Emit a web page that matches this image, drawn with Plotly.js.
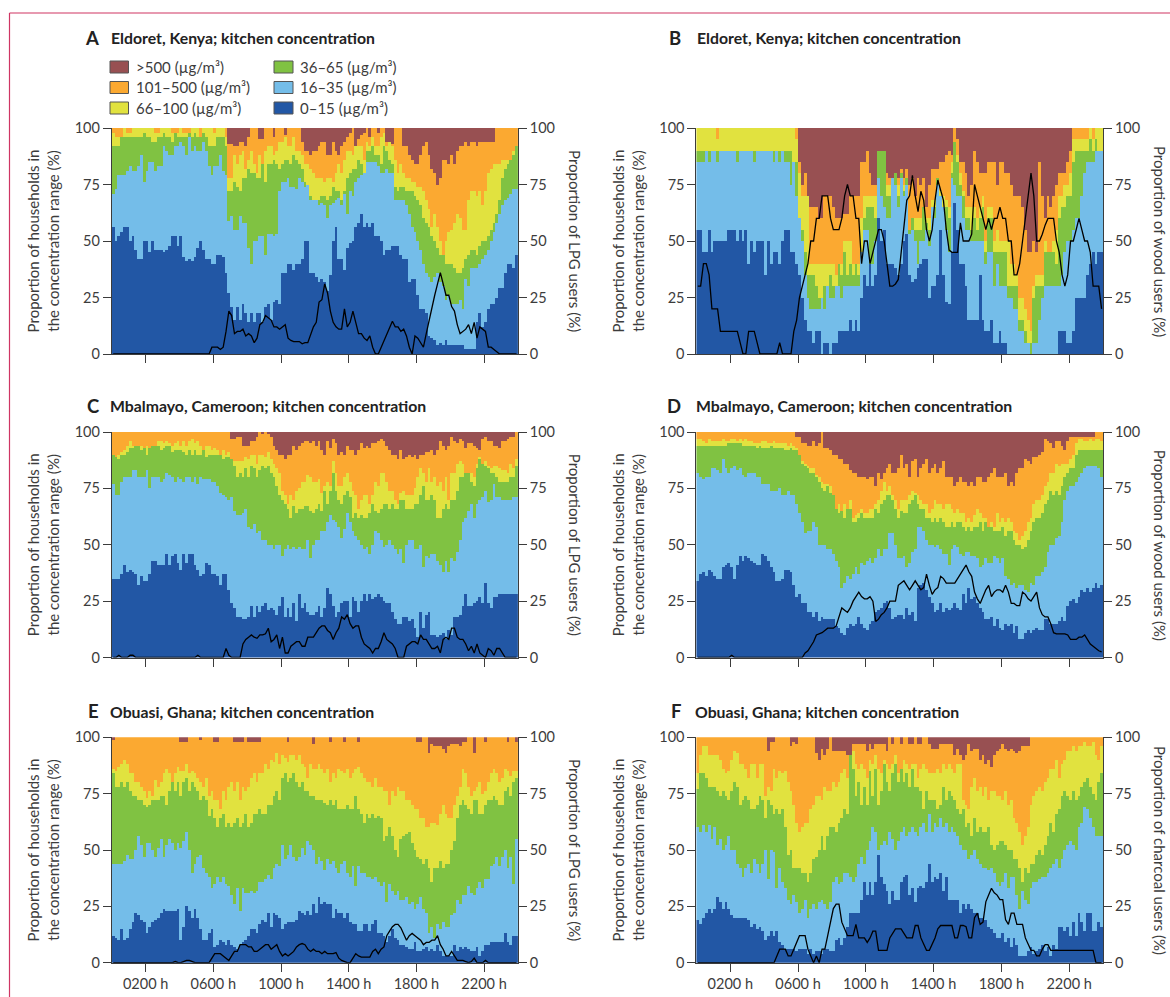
<!DOCTYPE html>
<html><head><meta charset="utf-8">
<script src="https://cdn.plot.ly/plotly-3.0.1.min.js"></script>
<style>html,body{margin:0;padding:0;background:#fff}</style></head>
<body><div id="chart" style="width:1170px;height:997px"></div>
<script>
const seriesNames=['0–15 (µg/m³)','16–35 (µg/m³)','36–65 (µg/m³)','66–100 (µg/m³)','101–500 (µg/m³)','>500 (µg/m³)'];
const seriesColors=['#2257a5','#74bde9','#80c242','#e1e23f','#fba931','#985052'];
const hourTicks=[2,6,10,14,18,22];
const hourLabels=['0200 h','0600 h','1000 h','1400 h','1800 h','2200 h'];
// Upper edge (%) of each concentration band, 10-minute bins, six values per hour
const a1=[56,50,52,54,56,56, 50,52,46,42,42,50, 50,45,50,46,46,46, 45,46,48,52,52,48, 52,43,41,42,41,43, 47,50,46,42,42,40, 40,44,44,43,36,27, 21,15,21,15,22,18, 14,18,14,18,18,14, 21,22,15,23,24,22, 36,36,40,40,37,40, 40,42,50,50,36,36, 34,32,33,32,28,35, 50,56,42,42,37,47, 49,50,56,58,62,56, 58,56,58,52,52,50, 44,46,46,48,48,48, 44,42,42,32,33,33, 26,20,20,18,8,7, 6,4,5,4,6,4, 4,4,4,4,4,2, 2,2,2,14,18,12, 14,20,22,22,25,29, 29,36,40,40,38,44];
const a2=[71,73,79,79,79,81, 83,81,81,83,88,76, 81,85,85,81,83,83, 92,90,88,88,92,92, 94,92,88,96,90,92, 90,90,94,90,83,79, 83,83,88,81,79,59, 61,55,55,61,58,58, 47,40,50,50,52,52, 44,53,53,52,53,72, 76,76,78,74,74,73, 78,76,74,75,68,68, 68,66,67,66,60,66, 67,68,69,66,71,62, 72,70,76,78,79,80, 85,85,85,85,83,80, 80,82,80,80,68,68, 68,68,66,62,56,54, 50,46,40,36,34,32, 34,36,32,30,24,26, 22,22,22,24,20,33, 30,38,38,38,40,42, 44,46,50,54,58,62, 66,68,69,71,73,73];
const a3=[92,92,92,96,96,96, 96,96,96,96,96,98, 96,96,94,94,96,96, 98,96,96,94,98,96, 96,96,96,98,96,98, 96,96,98,96,92,92, 92,96,96,96,92,72, 72,76,74,72,78,78, 82,80,80,78,78,84, 76,84,84,86,84,82, 84,86,86,84,88,86, 84,82,76,72,70,68, 68,68,70,70,68,70, 74,72,72,68,72,78, 80,82,82,86,84,80, 90,90,92,88,88,84, 92,90,86,84,74,72, 74,74,72,72,72,70, 68,66,60,58,56,52, 50,47,44,44,40,40, 40,38,36,36,38,42, 44,46,46,44,48,50, 50,52,55,58,62,68, 78,82,84,86,88,92];
const a4=[98,96,96,96,100,98, 98,100,100,100,100,100, 100,100,100,98,98,100, 100,100,100,98,98,98, 100,98,98,98,100,100, 100,96,100,100,100,100, 98,100,100,100,96,78, 78,88,84,88,90,82, 86,90,84,80,88,82, 90,92,92,88,90,94, 94,96,92,92,96,90, 90,88,84,84,82,80, 78,78,78,76,78,78, 76,80,84,80,86,90, 90,88,92,92,92,86, 94,92,96,92,92,96, 98,92,94,92,86,80, 84,80,78,78,76,76, 74,74,72,68,64,56, 62,56,50,44,50,54, 55,58,62,60,55,55, 68,72,72,70,72,66, 72,80,82,84,84,84, 86,86,86,86,90,92];
const a5=[100,100,100,100,100,100, 100,100,100,100,100,100, 100,100,100,100,100,100, 100,100,100,100,100,100, 100,100,100,100,100,100, 100,100,100,100,100,100, 100,100,100,100,100,93, 93,92,92,94,94,92, 96,100,100,100,95,95, 100,100,100,96,100,100, 100,97,100,100,100,100, 100,94,90,90,88,90, 90,92,94,94,88,88, 94,90,88,92,94,96, 98,100,92,95,97,98, 100,96,100,100,98,100, 100,94,93,93,100,100, 100,92,92,88,86,84, 84,88,92,94,88,82, 80,75,78,86,86,84, 88,84,90,92,92,94, 92,94,94,92,94,94, 94,94,94,94,100,100, 100,100,100,100,100,100];
const lineA=[0,0,0,0,0,0, 0,0,0,0,0,0, 0,0,0,0,0,0, 0,0,0,0,0,0, 0,0,0,0,0,0, 0,0,0,0,0,3, 3,3,2,3,10,19, 17,9,10,10,11,8, 9,8,5,7,13,14, 17,16,15,12,12,11, 12,13,7,6,5.5,5.5, 5.5,4.5,5,5,9,12, 14,23,24,31,27,19, 14,12,11,11,20,12, 14,19,14,9,9,7, 6,8,3,0,0,3, 6,9,12,14.5,12,12, 10,11,8,3,0,8, 7,5,3,9,15,20, 26,31,36,31,26,26, 21,19,13,9,10,11, 13,9,14,7,12,11, 10,3,3,2,1,0, 0,0,0,0,0,0];

const b1=[55,55,45,45,55,45, 50,50,50,50,50,55, 55,55,50,55,50,55, 40,50,45,50,50,50, 35,50,40,45,45,40, 50,55,55,45,45,40, 35,25,15,10,10,5, 10,10,0,5,5,0, 5,5,10,10,10,10, 15,10,15,10,25,35, 30,40,30,35,60,50, 55,40,40,40,38,35, 40,50,53,35,32,33, 38,40,42,42,25,30, 30,35,55,35,23,22, 45,67,55,40,40,30, 15,15,15,15,35,15, 10,10,15,5,5,10, 5,5,0,0,0,0, 0,0,0,0,0,0, 0,0,0,0,0,0, 0,0,10,10,10,5, 5,10,25,25,25,25, 35,40,45,40,45,45];
const b2=[85,85,85,90,85,90, 90,85,90,90,90,90, 90,90,85,90,90,90, 90,90,85,90,90,90, 90,90,90,85,90,85, 90,85,85,75,85,70, 60,50,35,25,20,20, 20,20,25,20,30,25, 25,30,30,25,30,30, 30,30,30,30,45,55, 55,40,40,50,78,70, 65,60,60,78,75,65, 78,70,75,53,55,50, 40,50,50,55,48,65, 60,75,70,65,55,45, 78,75,70,70,60,55, 55,50,50,50,50,50, 40,45,45,30,40,30, 30,30,25,25,20,20, 10,10,5,5,0,5, 5,15,25,30,30,30, 30,30,30,35,45,50, 50,55,60,60,70,80, 85,85,85,90,90,90];
const b3=[90,90,90,90,90,90, 90,90,90,90,90,90, 90,90,90,90,90,90, 90,90,90,90,90,90, 90,90,90,90,90,90, 90,90,90,90,85,85, 60,55,45,35,35,35, 30,25,25,30,30,35, 30,30,40,35,45,35, 40,35,40,35,45,60, 65,65,65,60,90,90, 90,70,70,70,80,70, 80,72,78,55,60,55, 55,55,65,58,55,65, 65,78,70,65,65,60, 80,94,85,75,70,60, 60,55,60,55,60,65, 45,60,60,45,45,45, 45,45,30,30,30,30, 15,15,10,5,5,25, 30,30,30,45,45,45, 45,40,60,65,65,70, 70,85,90,90,90,90, 90,95,90,95,85,90];
const b4=[100,100,100,100,100,100, 100,95,100,100,100,100, 100,100,100,100,100,100, 100,100,100,100,100,100, 100,100,100,100,100,100, 100,100,100,100,100,95, 80,70,70,70,40,40, 40,40,40,40,40,40, 40,35,40,40,50,50, 50,40,40,40,60,70, 70,70,70,70,90,90, 90,75,75,75,80,75, 80,75,78,55,60,60, 60,60,65,60,60,68, 68,78,72,70,68,65, 85,94,88,80,72,65, 65,65,65,60,65,70, 50,65,65,50,55,50, 50,50,50,40,40,35, 25,25,20,15,10,30, 35,35,35,50,45,45, 50,55,70,70,75,75, 80,95,95,95,95,95, 95,100,95,100,100,100];
const b5=[100,100,100,100,100,100, 100,100,100,100,100,100, 100,100,100,100,100,100, 100,100,100,100,100,100, 100,100,100,100,100,100, 100,100,100,100,100,100, 85,75,80,70,65,65, 65,60,60,70,70,70, 65,60,60,60,62,62, 70,70,70,70,85,85, 90,80,75,75,90,90, 90,80,78,75,80,78, 82,78,82,75,78,70, 78,75,78,65,75,82, 82,82,85,85,88,90, 88,100,95,85,85,80, 70,75,90,85,80,80, 80,85,85,85,75,85, 85,80,80,75,70,70, 70,65,55,45,45,50, 45,85,70,60,70,65, 70,75,80,80,80,85, 90,100,100,100,100,100, 100,100,100,100,100,100];
const lineB=[30,30,40,40,35,20, 20,20,10,10,10,10, 10,10,10,5,0,0, 10,10,10,5,0,0, 0,0,0,0,0,5, 0,0,0,0,10,15, 25,30,35,40,50,50, 60,60,70,70,70,60, 55,55,55,60,70,75, 70,70,60,60,40,50, 50,40,45,50,55,55, 50,40,30,30,31,33, 45,55,68,70,79,70, 63,72,68,55,50,55, 68,77,73,68,55,46, 45,45,45,58,50,50, 50,53,75,70,65,60, 55,60,55,60,60,65, 60,60,50,50,35,35, 40,50,60,70,80,70, 50,50,53,57,60,60, 60,50,45,35,30,35, 50,50,55,60,55,50, 50,45,30,30,30,20];

const c1=[35,35,35,37,41,38, 39,38,37,32,36,34, 34,37,43,43,41,41, 41,46,41,45,46,42, 39,46,42,46,46,41, 39,36,37,42,41,37, 37,36,32,37,37,30, 24,22,18,18,17,17, 18,23,18,23,20,23, 24,21,22,21,19,23, 27,18,22,18,24,16, 28,22,24,20,19,19, 20,23,18,22,31,28, 23,18,20,24,25,25, 18,27,25,20,25,28, 25,28,26,27,28,27, 25,24,24,20,17,15, 15,18,18,16,17,13, 9,20,13,19,20,10, 10,9,10,11,8,12, 10,18,18,19,23,28, 23,23,24,25,27,24, 33,24,22,27,27,28, 28,28,28,28,28,28];
const c2=[77,72,72,78,80,80, 80,83,83,80,80,80, 83,75,80,80,80,78, 79,82,81,80,78,80, 79,78,80,80,78,80, 77,80,79,79,79,78, 78,76,73,72,71,70, 71,65,63,63,64,66, 58,57,59,55,56,52, 52,50,50,48,50,50, 45,48,50,48,49,48, 49,48,48,52,44,50, 52,52,56,56,60,63, 61,60,58,53,57,64, 60,56,54,52,50,48, 49,46,50,56,55,52, 49,50,52,50,48,46, 48,42,50,52,52,48, 48,50,40,45,44,46, 46,43,41,38,43,38, 44,43,47,52,60,62, 65,68,62,68,70,71, 74,69,70,77,71,71, 70,70,70,70,71,71];
const c3=[90,89,88,90,90,91, 93,93,94,94,92,93, 90,93,94,94,94,92, 93,94,94,91,92,92, 92,91,90,92,90,92, 90,90,92,89,90,90, 90,90,90,88,89,89, 88,85,80,82,80,84, 80,85,84,80,83,85, 84,85,82,80,76,72, 70,68,66,62,67,64, 66,66,67,67,65,64, 66,68,65,74,68,74, 82,74,70,68,72,74, 71,62,64,62,63,62, 62,64,68,65,64,66, 68,68,66,68,66,66, 70,70,66,66,66,68, 68,72,76,70,70,72, 70,62,62,66,68,66, 70,70,74,80,80,82, 82,78,76,84,88,86, 85,84,82,82,80,78, 78,78,78,80,80,85];
const c4=[90,89,90,91,92,94, 96,94,94,94,94,93, 94,93,94,94,96,96, 95,96,95,94,95,96, 94,96,94,96,97,95, 96,94,92,94,94,92, 93,92,90,92,90,91, 88,87,87,87,87,89, 88,90,90,86,90,90, 89,91,88,86,84,82, 74,72,68,72,70,74, 75,78,78,81,80,78, 78,79,73,76,78,76, 87,82,76,76,80,82, 78,74,72,66,70,72, 72,68,72,78,76,82, 82,78,74,74,70,68, 73,74,72,72,72,75, 80,84,82,78,84,78, 80,76,78,74,80,70, 82,82,86,87,86,82, 82,82,80,86,89,86, 87,85,84,85,85,84, 83,83,82,86,84,88];
const c5=[100,100,100,100,100,100, 100,100,100,100,100,100, 100,100,100,100,100,100, 100,100,100,100,100,100, 100,100,100,100,100,100, 100,100,100,100,100,100, 100,100,100,100,100,100, 97,97,98,98,94,94, 94,96,96,98,100,99, 100,99,98,94,92,90, 90,88,90,90,94,92, 94,95,96,96,95,96, 94,96,92,90,96,93, 97,95,90,91,90,94, 92,92,90,92,95,93, 94,93,95,95,96,97, 96,94,92,90,90,88, 92,88,89,90,89,90, 88,90,90,91,91,92, 90,92,96,94,92,94, 98,96,95,97,96,93, 95,95,94,93,92,97, 98,96,96,94,94,93, 96,96,97,98,98,100];
const lineC=[0,0,1,0,0,0, 1,1,0,0,0,0, 0,0,0,0,0,0, 0,0,0,0,0,0, 0,0,0,0,0,0, 1,0,0,0,0,0, 0,0,0,0,4,1, 0,0,0,0,6,8, 9,10,9,8.5,10,10, 10.5,13,7,8,10,4, 9,2,2,5,6,7, 7,5,5,9,9,9, 11,13,14,14,12,11, 8,11,13,18,17,19, 15,13,14,14,9,6, 5,4,2,4,4,7, 11,8,7,6,4,0, 0,0,5,6,7,7, 6,10,8,8,6,4, 4,5,2,8,9,8, 13,13,9,8,8,6, 3,5,2,6,2,1, 0,4,3,1,4,4, 2,0,0,0,0,0];

const d1=[34,37,38,36,39,38, 36,35,35,40,41,42, 40,35,41,45,43,45, 44,43,42,41,41,46, 45,43,40,38,34,34, 35,39,39,38,32,27, 28,24,24,20,20,18, 20,16,18,17,17,17, 17,14,13,11,10,13, 15,14,15,18,15,13, 12,15,16,20,21,22, 24,25,22,17,18,19, 19,17,22,19,20,16, 31,32,33,30,27,24, 20,21,24,20,22,21, 22,24,22,21,28,24, 31,26,27,24,22,20, 17,17,18,14,17,13, 12,15,14,15,11,14, 8,8,11,12,11,12, 13,12,12,17,17,15, 15,15,16,18,16,23, 25,26,24,27,30,29, 31,29,31,33,31,32];
const d2=[82,80,79,80,80,84, 84,83,82,88,84,82, 84,85,83,84,81,80, 82,82,82,80,80,77, 77,77,74,74,74,75, 72,72,74,72,72,68, 64,60,55,56,56,60, 58,50,50,50,48,48, 46,43,40,31,33,36, 35,37,40,37,42,41, 43,44,42,44,48,45, 48,48,55,55,50,44, 44,45,40,42,47,48, 58,58,56,52,50,50, 49,50,48,46,46,41, 48,50,49,46,45,47, 47,45,45,44,40,41, 44,42,42,45,44,42, 44,36,35,32,33,31, 32,32,30,29,33,32, 36,36,38,40,47,50, 50,53,54,60,70,74, 76,76,78,80,82,84, 85,85,85,85,84,80];
const d3=[94,94,94,94,94,94, 94,94,94,94,94,95, 95,95,95,95,94,94, 94,94,94,93,94,93, 93,93,94,93,93,93, 93,92,92,93,92,92, 90,86,85,84,82,82, 80,78,75,74,76,73, 72,66,64,65,62,66, 66,60,60,62,64,62, 62,62,62,66,64,68, 70,72,72,70,66,62, 65,64,64,68,70,72, 68,66,66,62,62,60, 62,60,62,60,58,58, 60,58,60,60,58,56, 58,56,58,58,60,56, 60,58,58,56,56,56, 58,54,56,56,52,50, 50,48,49,52,56,60, 62,62,64,68,70,74, 72,74,72,76,80,82, 84,84,90,92,92,92, 92,92,92,92,92,92];
const d4=[97,97,96,95,97,96, 96,96,96,97,96,96, 97,97,96,97,96,97, 96,96,95,95,95,96, 96,95,95,96,95,95, 95,95,94,95,94,93, 90,87,86,85,84,84, 81,80,78,77,77,76, 72,62,68,62,68,66, 70,62,63,64,66,64, 64,66,66,68,70,74, 78,74,76,72,70,66, 70,70,70,72,74,73, 72,70,68,68,64,66, 70,68,68,66,68,68, 66,64,66,64,64,60, 62,60,63,66,64,62, 62,58,60,58,64,60, 62,60,62,60,56,55, 52,54,56,60,62,68, 70,70,72,76,78,82, 82,86,85,86,86,86, 88,90,95,97,97,96, 96,97,96,97,97,96];
const d5=[100,100,100,100,100,100, 100,100,100,100,100,100, 100,100,100,100,100,100, 100,100,100,100,100,100, 100,100,100,100,100,100, 100,100,100,100,100,98, 98,95,95,94,94,96, 94,95,100,93,93,92, 90,90,88,88,86,86, 83,82,82,80,80,80, 79,80,80,76,82,79, 82,84,86,82,82,84, 90,84,86,80,87,88, 80,84,86,88,82,84, 86,82,84,87,80,80, 80,76,78,80,78,78, 76,78,76,80,80,78, 78,80,82,84,80,80, 80,82,76,78,76,82, 84,84,88,87,86,89, 89,90,91,97,96,95, 93,96,96,94,92,96, 98,98,98,98,98,98, 98,98,98,100,100,100];
const lineD=[0,0,0,0,0,0, 0,0,0,0,0,0, 1,0,0,0,0,0, 0,0,0,0,0,0, 0,0,0,0,0,0, 0,0,0,0,0,0, 0,0,2,3,5,7, 10,10.5,11,12,13,13, 13,14,18,22,21,20, 22,25,27,29,27,26, 26,27,25,16,17,19, 20,22,25,25,25,32, 33,34,32,30,32,34, 32,30,31,37,32,28, 30,31,36,35,33,33, 33,33,35,37,39,41, 38,36,29,26,24,27, 30,32,27,29,30,30, 29,32,29,24,24,23, 23,29,28,26,25,27, 29,22,19,18,18,15, 11,10.5,10.5,10.5,10.5,10, 8,8,8,9,9,10, 8,6,5,4,3,2.5];

const e1=[12,11,10,15,10,11, 15,18,22,21,19,18, 13,16,18,19,20,22, 24,23,23,23,23,24, 10,16,25,23,20,24, 20,15,10,10,13,15, 7,8,10,9,8,10, 8,7,6,8,9,10, 12,15,15,13,17,19, 18,22,16,22,21,20, 15,17,18,18,18,19, 23,22,21,23,21,26, 22,29,26,27,26,26, 20,24,22,22,20,22, 18,17,17,14,14,17, 17,14,17,19,13,13, 12,9,12,15,11,10, 8,8,7,6,6,9, 5,5,6,7,5,6, 5,8,5,3,3,3, 3,8,5,7,6,7, 6,5,5,7,3,5, 8,8,9,9,9,9, 9,13,9,8,12,12];
const e2=[44,44,44,44,45,48, 46,46,50,56,52,47, 53,53,50,47,51,55, 47,52,55,53,50,53, 51,54,58,50,40,44, 47,48,42,40,38,33, 35,38,36,38,35,34, 30,26,33,23,33,31, 31,32,31,32,36,36, 37,39,37,42,44,43, 52,46,48,52,47,45, 47,51,48,54,52,50, 44,47,45,41,46,44, 45,42,40,44,45,40, 38,43,34,43,40,40, 38,38,37,38,36,34, 36,27,35,32,30,32, 28,28,29,26,27,24, 26,29,24,22,13,16, 11,17,15,18,16,16, 21,22,28,26,30,30, 34,31,30,33,36,33, 37,37,43,44,47,43, 47,50,42,47,35,55];
const e3=[84,78,78,80,78,80, 76,74,74,72,72,70, 69,70,72,72,72,74, 74,70,76,80,76,80, 74,80,82,76,80,78, 76,72,74,72,65,68, 64,60,64,66,60,62, 60,62,64,60,62,66, 60,62,66,66,68,66, 66,70,70,74,76,72, 82,84,80,82,84,80, 78,80,76,76,74,74, 72,72,72,71,70,72, 70,72,68,68,68,70, 68,68,74,68,66,62, 66,64,66,64,65,64, 54,56,60,56,50,47, 55,56,57,58,53,50, 47,46,44,46,42,36, 42,42,45,42,44,44, 50,54,64,70,72,70, 68,66,72,72,66,66, 70,72,72,74,72,70, 70,76,78,74,80,82];
const e4=[86,85,87,88,90,88, 84,84,80,80,78,76, 73,76,74,81,78,80, 84,86,84,78,84,87, 85,85,88,84,85,84, 82,80,78,82,74,76, 72,72,68,76,72,78, 80,76,80,72,78,76, 78,82,84,80,84,84, 88,86,90,89,93,88, 92,91,89,92,92,90, 92,88,87,82,88,86, 86,88,86,84,86,80, 84,82,86,85,84,86, 82,84,86,87,84,82, 80,80,78,82,78,78, 76,76,70,76,74,78, 76,76,72,72,70,68, 68,64,64,60,60,62, 62,61,66,70,66,64, 64,70,74,78,86,84, 78,74,76,78,80,75, 76,80,84,86,84,80, 82,86,85,83,85,85];
const e5=[99,100,100,100,100,100, 100,100,100,100,100,100, 100,100,100,100,100,100, 100,100,100,100,100,100, 98,98,98,100,100,100, 100,99,100,100,100,100, 98,98,100,100,100,100, 100,98,98,98,98,100, 98,98,98,98,98,100, 100,100,100,100,100,100, 100,100,98,100,100,100, 100,100,100,100,100,97, 100,100,100,100,100,98, 100,100,100,100,98,100, 100,100,100,98,100,100, 100,100,100,100,100,100, 100,100,100,100,100,100, 100,100,100,100,100,100, 98,98,100,100,93,97, 96,96,96,95,93,96, 97,97,97,96,98,98, 100,100,93,100,100,100, 98,100,100,100,100,100, 100,100,98,100,100,98];
const lineE=[0,0,0,0,0,0, 0,0,0,0,0,0, 0,0,0,0,0,0, 0,0,0,0,0.5,0, 0,0.5,1,1,0.5,0, 0,0,0,0,0,2, 4,4,4,3,2,1, 3,5,5,8,8,8, 7,7,5,5,6,7, 8,8,6,7,8,5, 3,4,3,4,5,7, 8,8.5,8,6,5,6, 5,5,4,5,4,4, 4,4.5,2,1,0.5,0, 0,2,4,3,2.5,2.5, 2.5,2.5,5,6,4,6, 7,12,14,16,17,17, 15.5,13,10,12,13,12, 11,10,8,9,9,10, 10,12,8,6,3,3, 5,3,1,1,1,0.5, 0,0.5,2,0,0,0, 1,0,0,0,0,0, 0,0,0,0,0,0];

const f1=[19,17,20,22,24,22, 24,29,27,24,27,24, 21,20,20,20,20,20, 19,16,17,15,16,14, 10,12,14,12,14,9, 8,6,6,6,6,5, 6,6,6,4,6,4, 5,5,4,6,6,5, 5,10,11,8,11,16, 22,22,22,22,28,36, 30,36,30,36,48,38, 35,32,26,32,28,28, 36,38,39,30,33,27, 33,34,33,36,44,36, 38,37,40,32,38,28, 28,28,28,22,26,24, 26,24,22,22,20,20, 19,16,15,13,11,11, 13,9,11,7,11,8, 3,3,3,5,7,4, 5,6,8,5,7,3, 8,6,16,16,14,16, 12,18,12,22,18,14, 22,22,14,14,18,16];
const f2=[60,58,61,58,61,55, 60,52,55,50,52,56, 50,50,44,42,38,42, 44,40,46,44,40,44, 50,37,50,49,33,42, 36,33,28,26,30,27, 22,24,28,20,24,26, 24,27,28,26,24,27, 36,38,35,36,40,40, 38,36,38,44,47,44, 50,54,60,58,50,52, 54,52,58,55,50,54, 58,60,56,58,60,58, 56,60,62,58,66,58, 62,60,64,60,62,58, 60,58,56,52,50,50, 46,48,50,46,44,42, 42,41,42,40,36,34, 36,40,33,38,38,30, 24,32,28,26,33,36, 36,37,38,38,40,42, 44,46,42,46,50,52, 54,52,50,60,62,69, 68,64,60,56,56,56];
const f3=[77,84,84,82,78,78, 78,76,74,76,74,72, 76,80,78,70,72,74, 72,68,68,70,74,72, 64,72,70,66,68,66, 68,60,48,50,42,42, 42,40,40,36,40,46, 47,50,56,50,56,60, 60,58,62,64,68,66, 92,86,74,80,70,78, 70,85,74,86,70,76, 88,80,76,84,88,80, 86,80,84,78,86,78, 78,76,68,76,72,72, 72,68,70,78,72,76, 74,72,68,66,68,60, 62,56,64,58,60,58, 58,60,52,50,52,54, 54,52,50,50,46,46, 42,36,42,40,44,44, 48,50,48,52,56,62, 58,66,68,74,76,74, 72,76,72,74,78,80, 82,78,75,72,80,84];
const f4=[84,92,96,96,92,92, 92,92,90,86,84,85, 90,94,93,88,88,86, 82,88,88,82,88,88, 74,78,76,86,82,85, 84,85,80,76,70,62, 58,60,62,62,68,70, 74,74,72,78,76,76, 80,78,80,84,86,82, 92,94,88,86,88,86, 82,90,88,92,86,84, 90,88,86,88,92,84, 86,90,88,86,88,88, 82,86,88,86,84,84, 84,86,84,88,86,88, 86,84,88,88,72,70, 68,78,82,76,78,74, 78,72,76,76,74,74, 72,76,70,72,64,62, 58,52,56,60,70,74, 76,78,76,80,82,86, 86,90,82,88,90,94, 94,96,94,96,96,98, 96,96,98,92,90,96];
const f5=[100,100,100,100,100,100, 100,100,100,100,100,100, 100,100,100,100,100,100, 100,100,100,100,100,100, 100,94,98,98,100,100, 100,100,100,96,98,97, 100,100,100,100,100,100, 93,90,95,92,95,100, 94,94,94,94,94,92, 92,97,97,97,97,97, 94,97,95,97,97,97, 97,94,100,97,100,100, 97,100,100,97,97,100, 97,97,100,100,97,95, 95,95,97,97,97,97, 97,92,95,92,90,92, 97,94,95,95,90,92, 88,90,87,92,94,95, 97,95,94,95,94,93, 94,96,96,96,100,100, 100,100,100,100,100,100, 100,100,100,100,100,100, 100,100,100,100,100,100, 100,100,100,100,100,100];
const lineF=[0,0,0,0,0,0, 0,0,0,0,0,0, 0,0,0,0,0,0, 0,0,0,0,0,0, 0,0,0,0,3,6, 6,6,3,3,6,9, 12,12,12,6,3,0, 3,0,6,6,12,18, 24,26,26,18,15,12, 12,12,17,11,11,11, 9,11,14,14,5.5,5.5, 5.5,5.5,11,13,15,15, 15,13,11,11,11,16.5, 16.5,11,8,5.5,5.5,8, 11,15,16.5,16.5,16.5,16.5, 16.5,11,11,16.5,16.5,16, 11,11,20,22,17,18, 27,30,33,31,30,28, 28,19,17,22,22,17, 17,17,11,8,5.5,5.5, 3,3,6,8,8,5.5, 5.5,5.5,5.5,5.5,5.5,5.5, 5.5,5.5,5.5,5.5,5.5,5.5, 5.5,5.5,5.5,0,0,0];

const panels=[
 {letter:'A',place:'Eldoret, Kenya',fuel:'LPG',edges:[a1,a2,a3,a4,a5],line:lineA},
 {letter:'B',place:'Eldoret, Kenya',fuel:'wood',edges:[b1,b2,b3,b4,b5],line:lineB},
 {letter:'C',place:'Mbalmayo, Cameroon',fuel:'LPG',edges:[c1,c2,c3,c4,c5],line:lineC},
 {letter:'D',place:'Mbalmayo, Cameroon',fuel:'wood',edges:[d1,d2,d3,d4,d5],line:lineD},
 {letter:'E',place:'Obuasi, Ghana',fuel:'LPG',edges:[e1,e2,e3,e4,e5],line:lineE},
 {letter:'F',place:'Obuasi, Ghana',fuel:'charcoal',edges:[f1,f2,f3,f4,f5],line:lineF}
];
const W=1170,H=997;
const cols=[[111.8,517.9],[696.4,1103]], rows=[[128,354],[432,657.5],[737.3,962.7]];
const letterX=[[92,675.5],[93.5,674.5],[93.5,676]], headY=[37.5,406,711], headX=[[109,694.5],[108,693.5],[108,693]];
const ink='#3c3c3c', fnt='Lato, "Open Sans", sans-serif';
const px=x=>x/W, py=y=>1-y/H;
const data=[],layout={width:W,height:H,margin:{l:0,r:0,t:0,b:0},paper_bgcolor:'#fff',plot_bgcolor:'#fff',
  barmode:'stack',bargap:0,showlegend:false,font:{family:fnt,size:14,color:ink},annotations:[],
  shapes:[
   {type:'line',xref:'paper',yref:'paper',x0:px(9.5),x1:1,y0:py(13),y1:py(13),line:{color:'#cf3563',width:1.2}},
   {type:'line',xref:'paper',yref:'paper',x0:px(9.5),x1:px(9.5),y0:py(13),y1:0,line:{color:'#cf3563',width:1.2}}
  ]};
const hoursOfBin=a1.map((_,i)=>(i+0.5)/6);
panels.forEach((p,k)=>{
  const c=k%2,r=Math.floor(k/2),xa='x'+(k+1),yl='y'+(2*k+1),yr='y'+(2*k+2);
  const suffix=s=>s==='x1'||s==='y1'?s[0]:s;
  const xid=suffix(xa),lid=suffix(yl);
  let low=a1.map(()=>0);
  const tops=[...p.edges,a1.map(()=>100)];
  tops.forEach((edge,s)=>{
    const top=edge.map((v,i)=>Math.max(v,low[i]));
    data.push({type:'bar',name:seriesNames[s],x:hoursOfBin,y:top.map((v,i)=>v-low[i]),width:1/6,
      marker:{color:seriesColors[s],line:{width:0}},xaxis:xid,yaxis:lid,hoverinfo:'skip'});
    low=top;
  });
  data.push({type:'scatter',mode:'lines',name:'Proportion of '+p.fuel+' users',x:hoursOfBin,y:p.line,
    line:{color:'#000',width:1.3},xaxis:xid,yaxis:yr,cliponaxis:false,hoverinfo:'skip'});
  const xName=xa==='x1'?'xaxis':'xaxis'+(k+1), lName=yl==='y1'?'yaxis':'yaxis'+(2*k+1), rName='yaxis'+(2*k+2);
  layout[xName]={domain:[px(cols[c][0]),px(cols[c][1])],range:[0,24],anchor:lid,tickmode:'array',tickvals:hourTicks,
    ticktext:hourLabels,showticklabels:r===2,ticks:'outside',ticklen:8,tickcolor:ink,showline:true,linecolor:ink,linewidth:1,
    showgrid:false,zeroline:false,tickfont:{size:14.5,color:ink}};
  const ybase={domain:[py(rows[r][1]),py(rows[r][0])],range:[0,100],tickmode:'array',tickvals:[0,25,50,75,100],
    ticks:'outside',ticklen:8,tickcolor:ink,showline:true,linecolor:ink,linewidth:1,showgrid:false,zeroline:false,
    tickfont:{size:14.5,color:ink}};
  layout[lName]=Object.assign({},ybase,{anchor:xid,side:'left',
    title:{text:'Proportion of households in<br>the concentration range (%)',font:{size:15,color:ink},standoff:11}});
  layout[rName]=Object.assign({},ybase,{anchor:xid,overlaying:lid,side:'right'});
  layout.annotations.push(
   {xref:'paper',yref:'paper',x:px(cols[c][1]+57),y:py((rows[r][0]+rows[r][1])/2),text:'Proportion of '+p.fuel+' users (%)',
    textangle:90,showarrow:false,font:{size:15,color:ink},xanchor:'center',yanchor:'middle'},
   {xref:'paper',yref:'paper',x:px(letterX[r][c]),y:py(headY[r]),text:'<b>'+p.letter+'</b>',showarrow:false,
    font:{size:18.5,color:'#222'},xanchor:'center',yanchor:'middle'},
   {xref:'paper',yref:'paper',x:px(headX[r][c]),y:py(headY[r]),text:'<b>'+p.place+'; kitchen concentration</b>',showarrow:false,
    font:{size:15.8,color:'#222'},xanchor:'left',yanchor:'middle'});
});
// key: two columns of three entries, top band first
const keyOrder=[[5,4,3],[2,1,0]], keySwatchX=[[110,128.5],[274,293]], keyTextX=[134,298], keyY=[[61,73],[81.5,93.5],[102,114]];
keyOrder.forEach((col,ci)=>col.forEach((s,ri)=>{
  layout.shapes.push({type:'rect',xref:'paper',yref:'paper',x0:px(keySwatchX[ci][0]),x1:px(keySwatchX[ci][1]),
    y0:py(keyY[ri][1]),y1:py(keyY[ri][0]),fillcolor:seriesColors[s],line:{color:'#555',width:1}});
  layout.annotations.push({xref:'paper',yref:'paper',x:px(keyTextX[ci]),y:py((keyY[ri][0]+keyY[ri][1])/2),text:seriesNames[s],
    showarrow:false,xanchor:'left',yanchor:'middle',font:{size:15,color:ink}});
}));
Plotly.newPlot('chart',data,layout,{displayModeBar:false,staticPlot:true});
</script></body></html>
